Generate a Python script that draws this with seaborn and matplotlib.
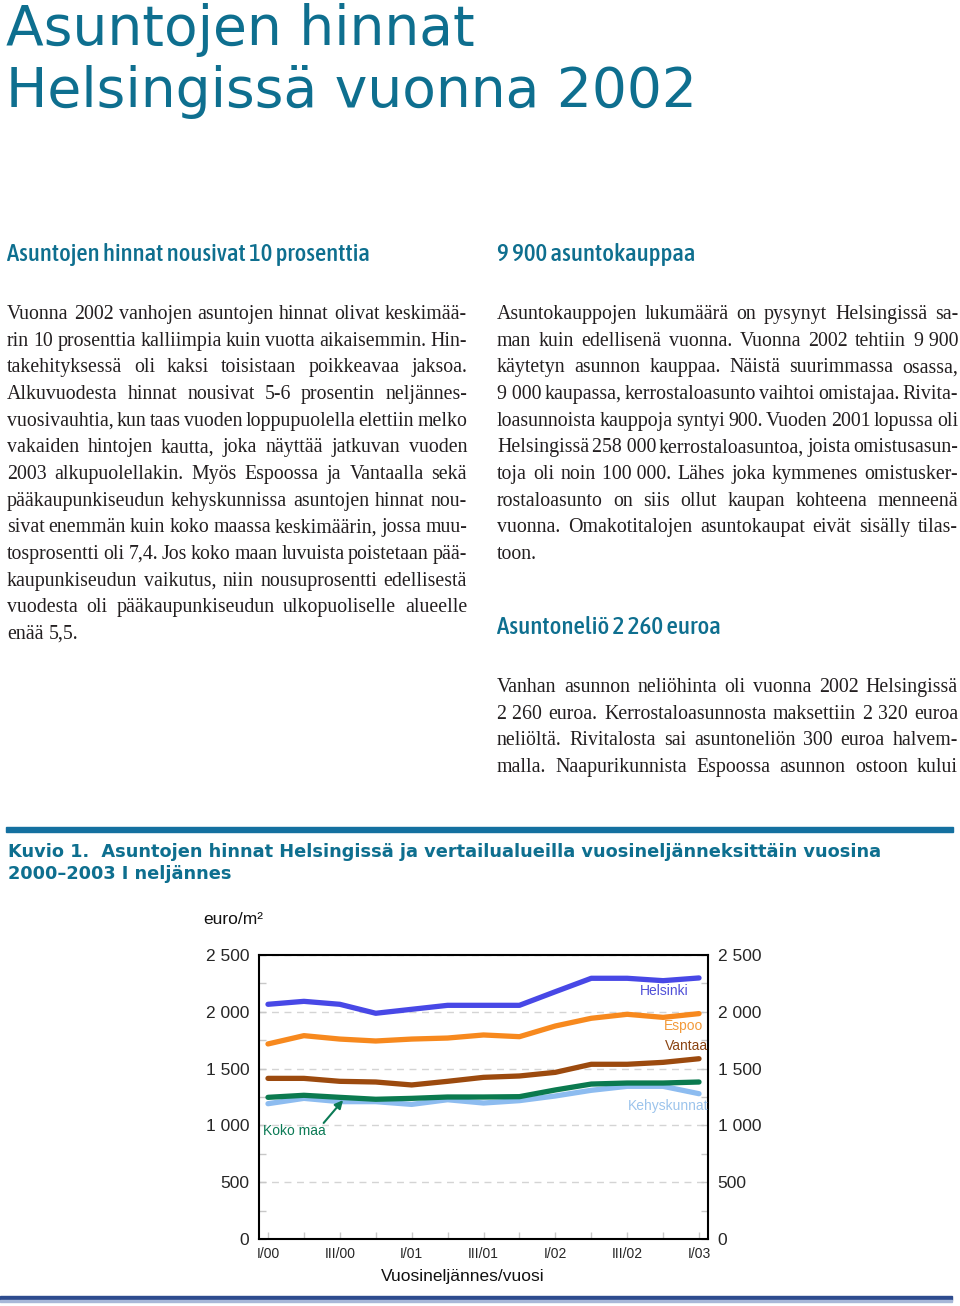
import numpy as np
import pandas as pd
import matplotlib
matplotlib.use("Agg")
import matplotlib.pyplot as plt
import seaborn as sns
from matplotlib.font_manager import FontProperties
from matplotlib import font_manager
from matplotlib.patches import Rectangle

# ---------------- data ----------------
quarters = ['I/00', 'II/00', 'III/00', 'IV/00', 'I/01', 'II/01', 'III/01', 'IV/01',
            'I/02', 'II/02', 'III/02', 'IV/02', 'I/03']
helsinki = [2066, 2092, 2066, 1987, 2022, 2057, 2057, 2057, 2177, 2295, 2295, 2274, 2298]
espoo = [1717, 1790, 1760, 1743, 1760, 1769, 1796, 1781, 1875, 1943, 1978, 1951, 1984]
vantaa = [1414, 1414, 1388, 1382, 1356, 1388, 1423, 1435, 1467, 1538, 1538, 1555, 1587]
koko_maa = [1247, 1265, 1247, 1230, 1238, 1250, 1250, 1253, 1312, 1364, 1373, 1373, 1382]
kehyskunnat = [1191, 1238, 1209, 1209, 1185, 1226, 1197, 1218, 1259, 1309, 1344, 1344, 1279]
series_names = ['Helsinki', 'Espoo', 'Vantaa', 'Kehyskunnat', 'Koko maa']
y_ticks = [0, 500, 1000, 1500, 2000, 2500]
y_ticklabels = ['0', '500', '1 000', '1 500', '2 000', '2 500']

title_lines = ['Asuntojen hinnat', 'Helsingissä vuonna 2002']
heading1 = 'Asuntojen hinnat nousivat 10 prosenttia'
heading2 = '9 900 asuntokauppaa'
heading3 = 'Asuntoneliö 2 260 euroa'
left_par = [
    'Vuonna 2002 vanhojen asuntojen hinnat olivat keskimää-',
    'rin 10 prosenttia kalliimpia kuin vuotta aikaisemmin. Hin-',
    'takehityksessä oli kaksi toisistaan poikkeavaa jaksoa.',
    'Alkuvuodesta hinnat nousivat 5-6 prosentin neljännes-',
    'vuosivauhtia, kun taas vuoden loppupuolella elettiin melko',
    'vakaiden hintojen kautta, joka näyttää jatkuvan vuoden',
    '2003 alkupuolellakin. Myös Espoossa ja Vantaalla sekä',
    'pääkaupunkiseudun kehyskunnissa asuntojen hinnat nou-',
    'sivat enemmän kuin koko maassa keskimäärin, jossa muu-',
    'tosprosentti oli 7,4. Jos koko maan luvuista poistetaan pää-',
    'kaupunkiseudun vaikutus, niin nousuprosentti edellisestä',
    'vuodesta oli pääkaupunkiseudun ulkopuoliselle alueelle',
    'enää 5,5.',
]
right_par1 = [
    'Asuntokauppojen lukumäärä on pysynyt Helsingissä sa-',
    'man kuin edellisenä vuonna. Vuonna 2002 tehtiin 9\u00a0900',
    'käytetyn asunnon kauppaa. Näistä suurimmassa osassa,',
    '9\u00a0000 kaupassa, kerrostaloasunto vaihtoi omistajaa. Rivita-',
    'loasunnoista kauppoja syntyi 900. Vuoden 2001 lopussa oli',
    'Helsingissä 258\u00a0000 kerrostaloasuntoa, joista omistusasun-',
    'toja oli noin 100\u00a0000. Lähes joka kymmenes omistusker-',
    'rostaloasunto on siis ollut kaupan kohteena menneenä',
    'vuonna. Omakotitalojen asuntokaupat eivät sisälly tilas-',
    'toon.',
]
right_par2 = [
    'Vanhan asunnon neliöhinta oli vuonna 2002 Helsingissä',
    '2\u00a0260 euroa. Kerrostaloasunnosta maksettiin 2\u00a0320 euroa',
    'neliöltä. Rivitalosta sai asuntoneliön 300 euroa halvem-',
    'malla. Naapurikunnista Espoossa asunnon ostoon kului',
]
caption_lines = ['Kuvio 1.  Asuntojen hinnat Helsingissä ja vertailualueilla vuosineljänneksittäin vuosina',
                 '2000\u20132003 I neljännes']

# ---------------- style ----------------
sns.set_style('white')
plt.rcParams['font.family'] = ['Liberation Sans', 'DejaVu Sans']

TEAL = '#0e6f8f'
BODY = '#231f20'
colors = {'Helsinki': '#4848e6', 'Espoo': '#f7891e', 'Vantaa': '#9c4a0e',
          'Koko maa': '#0b7a4f', 'Kehyskunnat': '#8dbcf0'}


def find_condensed():
    cands = []
    for f in font_manager.fontManager.ttflist:
        name = f.name.lower()
        path = str(f.fname).lower()
        st = str(f.stretch).lower()
        cond = ('condensed' in name or 'narrow' in name or 'condensed' in path
                or 'narrow' in path or st in ('condensed', 'semi-condensed', 'extra-condensed'))
        if not cond or f.style != 'normal':
            continue
        if 'mono' in name or ('serif' in name and 'sans' not in name):
            continue
        try:
            w = int(f.weight)
        except Exception:
            w = 400 if str(f.weight) in ('normal', 'regular') else 700 if 'bold' in str(f.weight) else 500
        score = abs(w - 500)
        if 'extra' in st or 'extra' in path:
            score += 50
        cands.append((score, str(f.fname)))
    if cands:
        cands.sort()
        return FontProperties(fname=cands[0][1])
    return FontProperties(family='DejaVu Sans')


HEAD_FP = find_condensed()

W, H = 960, 1306
fig = plt.figure(figsize=(W / 100, H / 100), dpi=100)
fig.patch.set_facecolor('white')
renderer = fig.canvas.get_renderer()


def fx(x):
    return x / W


def fy(y):
    return 1 - y / H


def tw(s, fp):
    w, h, d = renderer.get_text_width_height_descent(s, fp, ismath=False)
    return w


def fit_fp(s, width, fp):
    p = fp.copy()
    p.set_size(10)
    p.set_size(10 * width / tw(s, p))
    return p


def put(s, x, yb, fp, color, ha='left'):
    fig.text(fx(x), fy(yb), s, fontproperties=fp, color=color, va='baseline', ha=ha)


# ---------------- title ----------------
tfp = fit_fp(title_lines[1], 689, FontProperties(family='DejaVu Sans'))
put(title_lines[0], 6, 45, tfp, TEAL)
put(title_lines[1], 6, 107, tfp, TEAL)

# ---------------- headings ----------------
for s, x, yb, wd in [(heading1, 7, 261, 363), (heading2, 497, 261, 198), (heading3, 497, 634, 223)]:
    put(s, x, yb, fit_fp(s, wd, HEAD_FP), TEAL)

# ---------------- body text (justified) ----------------
s0 = 14.5
fp0 = FontProperties(family='Liberation Serif', size=s0)
space0 = tw('a a', fp0) - tw('aa', fp0)
ratio = 1.0
for lines, x0, x1 in [(left_par, 7, 467), (right_par1, 497, 958), (right_par2, 497, 958)]:
    for line in lines:
        words = line.split(' ')
        need = sum(tw(w, fp0) for w in words) + (len(words) - 1) * space0 * 0.6
        ratio = max(ratio, need / (x1 - x0))
body_size = s0 / ratio
bfp = FontProperties(family='Liberation Serif', size=body_size)
bspace = tw('a a', bfp) - tw('aa', bfp)


def paragraph(lines, x0, x1, yb0, lh, last_justified=False):
    for k, line in enumerate(lines):
        words = line.split(' ')
        widths = [tw(w, bfp) for w in words]
        justify = (k < len(lines) - 1) or last_justified
        if justify and len(words) > 1:
            gap = (x1 - x0 - sum(widths)) / (len(words) - 1)
        else:
            gap = bspace
        x = x0
        for w, wd in zip(words, widths):
            put(w, x, yb0 + k * lh, bfp, BODY)
            x += wd + gap


LH = 26.67
paragraph(left_par, 7, 467, 319, LH)
paragraph(right_par1, 497, 958, 319, LH)
paragraph(right_par2, 497, 958, 692, LH, last_justified=True)

# ---------------- bars ----------------
fig.patches.append(Rectangle((fx(6), fy(832)), fx(953) - fx(6), 5 / H,
                             transform=fig.transFigure, color='#1470a0', zorder=0))
fig.patches.append(Rectangle((fx(0), fy(1300)), fx(952), 4 / H,
                             transform=fig.transFigure, color='#2d4b8e', zorder=0))
fig.patches.append(Rectangle((fx(0), fy(1302)), fx(952), 2 / H,
                             transform=fig.transFigure, color='#a8b8d8', zorder=0))

# ---------------- caption ----------------
cfp = fit_fp(caption_lines[0], 869, FontProperties(family='DejaVu Sans', weight='bold'))
put(caption_lines[0], 8, 857, cfp, TEAL)
put(caption_lines[1], 8, 879, cfp, TEAL)

# ---------------- chart ----------------
ax = fig.add_axes([fx(259), fy(1239), (708 - 259) / W, (1239 - 955) / H])
n = len(quarters)
df = pd.DataFrame({
    'q': np.tile(np.arange(n), len(series_names)),
    'value': helsinki + espoo + vantaa + kehyskunnat + koko_maa,
    'series': np.repeat(series_names, n),
})
sns.lineplot(data=df, x='q', y='value', hue='series', hue_order=series_names,
             palette=colors, linewidth=3.8, legend=False, ax=ax,
             solid_capstyle='round', solid_joinstyle='round')

ax.set_xlim(-0.25, n - 1 + 0.25)
ax.set_ylim(0, 2500)
ax.set_xlabel('')
ax.set_ylabel('')
ax.set_xticks(np.arange(0, n, 2))
ax.set_xticklabels(quarters[::2], fontsize=10)
ax.set_xticks(np.arange(1, n, 2), minor=True)
ax.set_yticks(y_ticks)
ax.set_yticklabels(y_ticklabels, fontsize=12.5)
ax.set_yticks(np.arange(250, 2500, 500), minor=True)
ax.tick_params(axis='y', which='both', direction='in', left=True, right=True,
               labelleft=True, labelright=True, length=5, width=1, color='#c8c8c8', pad=7)
ax.tick_params(axis='x', which='both', direction='in', bottom=True, length=5, width=1,
               color='#c8c8c8', pad=6)
ax.grid(axis='y', which='major', linestyle=(0, (5, 4)), color='#d4d4d4', linewidth=1)
ax.grid(axis='x', visible=False)
for sp in ax.spines.values():
    sp.set_color('black')
    sp.set_linewidth(1.5)
    sp.set_visible(True)

lfs = 10
ax.text(11.03, 2183, 'Helsinki', color='#5050d8', fontsize=lfs, ha='center', va='center')
ax.text(11.56, 1875, 'Espoo', color='#f39a3a', fontsize=lfs, ha='center', va='center')
ax.text(11.64, 1699, 'Vantaa', color='#8b4513', fontsize=lfs, ha='center', va='center')
ax.text(10.03, 1171, 'Kehyskunnat', color='#9cc4ec', fontsize=lfs, ha='left', va='center',
        clip_on=True)
ax.text(-0.14, 951, 'Koko maa', color='#0b7a55', fontsize=lfs, ha='left', va='center')
ax.annotate('', xy=(2.14, 1241), xytext=(1.5, 1003),
            arrowprops=dict(arrowstyle='-|>', color='#0b7a55', lw=1.5, mutation_scale=12))

fig.text(fx(203), fy(924), 'euro/m²', fontsize=12.5, ha='left', va='baseline', color='#111111')
fig.text(fx(463), fy(1276), 'Vuosineljännes/vuosi', fontsize=12.5, ha='center', va='center',
         color='#111111')

fig.savefig('out.png', dpi=100, facecolor='white')
